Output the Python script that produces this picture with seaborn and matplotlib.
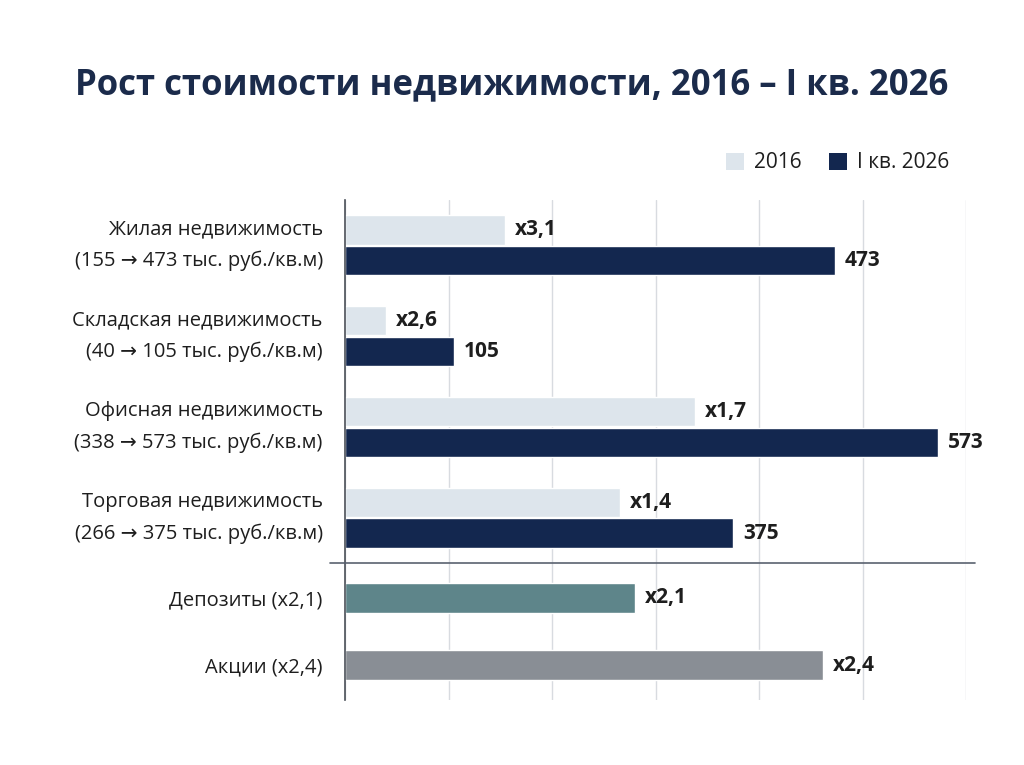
import numpy as np
import pandas as pd
import matplotlib.pyplot as plt
import seaborn as sns
from matplotlib.lines import Line2D
from matplotlib.patches import Patch

# данные
categories = [
    "Жилая недвижимость\n(155 → 473 тыс. руб./кв.м)",
    "Складская недвижимость\n(40 → 105 тыс. руб./кв.м)",
    "Офисная недвижимость\n(338 → 573 тыс. руб./кв.м)",
    "Торговая недвижимость\n(266 → 375 тыс. руб./кв.м)",
]
periods = ["2016", "I кв. 2026"]
values_2016 = [155, 40, 338, 266]
values_2026 = [473, 105, 573, 375]
growth_labels = ["x3,1", "x2,6", "x1,7", "x1,4"]

alt_categories = ["Депозиты (x2,1)", "Акции (x2,4)"]
alt_values = [280, 462]
alt_labels = ["x2,1", "x2,4"]

grid_ticks = [0, 100, 200, 300, 400, 500, 600]

# цвета
c_light = "#dde5ec"
c_navy = "#13274f"
c_teal = "#5e858a"
c_gray = "#898e95"
c_title = "#1b2b4b"
c_text = "#1e1e1e"

df = pd.DataFrame({
    "category": categories * 2,
    "period": [periods[0]] * 4 + [periods[1]] * 4,
    "value": values_2016 + values_2026,
})

sns.set_theme(style="white")
plt.rcParams["font.family"] = ["Open Sans", "DejaVu Sans"]

W, H = 1024, 765
fig = plt.figure(figsize=(W / 100, H / 100), dpi=100)
fig.patch.set_facecolor("white")

x0, x1 = 345, 966
ax1 = fig.add_axes([x0 / W, 1 - 563 / H, (x1 - x0) / W, 363 / H])
ax2 = fig.add_axes([x0 / W, 1 - 700 / H, (x1 - x0) / W, 137 / H])

# верхний блок - недвижимость
sns.barplot(data=df, y="category", x="value", hue="period", orient="h",
            palette=[c_light, c_navy], saturation=1, width=0.68, gap=0.05,
            legend=False, ax=ax1)
ax1.bar_label(ax1.containers[0], labels=growth_labels, padding=7,
              fontsize=15, fontweight="bold", color=c_text)
ax1.bar_label(ax1.containers[1], labels=[str(v) for v in values_2026],
              padding=7, fontsize=15, fontweight="bold", color=c_text)
ax1.set_ylim(3.5, -0.5)
ax1.set_yticks(range(len(categories)))
ax1.set_yticklabels(categories, linespacing=1.75, multialignment="right",
                    verticalalignment="center")

# нижний блок - депозиты и акции
sns.barplot(x=alt_values, y=alt_categories, hue=alt_categories, orient="h",
            palette=[c_teal, c_gray], saturation=1, width=0.45, legend=False, ax=ax2)
ax2.bar_label(ax2.containers[0], labels=[alt_labels[0]], padding=7,
              fontsize=15, fontweight="bold", color=c_text)
ax2.bar_label(ax2.containers[1], labels=[alt_labels[1]], padding=7,
              fontsize=15, fontweight="bold", color=c_text)
ax2.set_ylim(1.52, -0.52)

for ax in (ax1, ax2):
    ax.set_facecolor("none")
    ax.set_xlim(0, 600)
    ax.set_xticks(grid_ticks)
    ax.set_xticklabels([])
    ax.grid(axis="x", color="#d8dbe0", lw=1)
    ax.grid(axis="y", visible=False)
    ax.set_axisbelow(True)
    ax.set_xlabel("")
    ax.set_ylabel("")
    for s in ["top", "right", "bottom"]:
        ax.spines[s].set_visible(False)
    ax.spines["left"].set_color("#4a4f57")
    ax.spines["left"].set_linewidth(1.2)
    ax.tick_params(axis="both", length=0)
    ax.tick_params(axis="y", pad=16, labelsize=14.5, labelcolor=c_text)

# разделитель
fig.add_artist(Line2D([330 / W, 975 / W], [1 - 563 / H, 1 - 563 / H],
                      color="#5a6270", lw=1.2))

# заголовок
fig.text(0.5, 1 - 85 / H, "Рост стоимости недвижимости, 2016 – I кв. 2026",
         ha="center", va="center", fontsize=25, fontweight="bold", color=c_title)

# легенда
handles = [Patch(facecolor=c_light, edgecolor="none", label=periods[0]),
           Patch(facecolor=c_navy, edgecolor="none", label=periods[1])]
fig.legend(handles=handles, loc="center right", bbox_to_anchor=(968 / W, 1 - 163 / H),
           ncol=2, frameon=False, fontsize=15, handlelength=0.85, handleheight=0.85,
           handletextpad=0.5, columnspacing=1.3, labelcolor=c_text)

fig.savefig("out.png", dpi=100)
